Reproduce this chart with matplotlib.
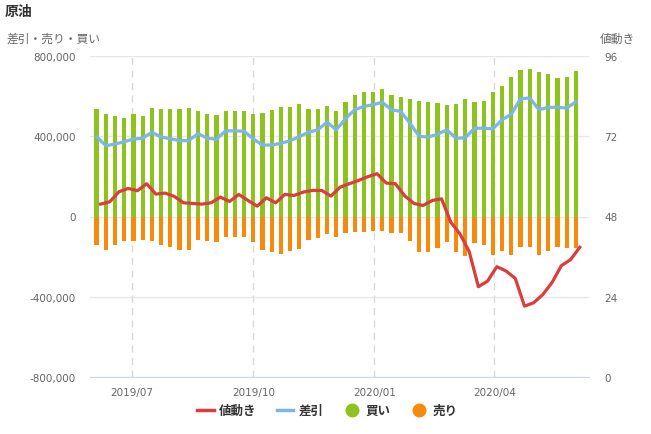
import numpy as np
import pandas as pd
import matplotlib
matplotlib.use('Agg')
import matplotlib.pyplot as plt
import matplotlib.dates as mdates
from matplotlib.lines import Line2D
from matplotlib.ticker import FuncFormatter

plt.rcParams['font.family'] = ['DejaVu Sans', 'Noto Sans CJK JP']

# weekly positions (Tuesdays), values in thousands of contracts
weeks = pd.date_range('2019-06-04', periods=53, freq='7D')

buy = [535, 512, 502, 490, 512, 502, 540, 535, 535, 535, 540, 524, 512, 507,
       524, 524, 524, 512, 517, 530, 546, 546, 561, 536, 536, 551, 525, 571,
       606, 621, 621, 636, 606, 596, 586, 574, 572, 567, 556, 562, 587, 572,
       577, 622, 652, 696, 731, 736, 721, 708, 688, 696, 726]

sell = [-140, -165, -140, -120, -120, -115, -120, -140, -154, -165, -165, -115,
        -120, -125, -100, -104, -104, -125, -165, -179, -185, -170, -160, -115,
        -109, -86, -104, -81, -75, -75, -71, -71, -82, -82, -124, -179, -179,
        -159, -125, -176, -199, -134, -140, -191, -171, -191, -151, -151, -191,
        -171, -151, -159, -159]

diff = [398, 353, 361, 373, 386, 390, 420, 396, 388, 378, 378, 413, 390, 385,
        427, 427, 425, 387, 356, 356, 365, 378, 398, 420, 432, 470, 432, 487,
        532, 549, 557, 569, 532, 524, 465, 400, 396, 410, 432, 390, 392, 440,
        440, 437, 482, 510, 587, 591, 532, 544, 544, 541, 571]

price = [51.7, 52.4, 55.4, 56.4, 55.7, 57.8, 54.7, 55.0, 54.0, 52.1, 51.9, 51.7,
         52.1, 53.8, 52.5, 54.6, 52.8, 51.1, 53.6, 52.1, 54.6, 54.3, 55.3, 55.8,
         55.8, 54.1, 56.8, 57.8, 58.8, 59.9, 60.8, 58.0, 57.8, 54.2, 51.9, 51.3,
         52.8, 53.3, 46.3, 42.8, 37.5, 27.0, 28.7, 33.0, 31.7, 29.5, 21.2, 22.2,
         24.7, 28.3, 33.3, 35.1, 38.8]

green = '#8dc21f'
orange = '#f7890c'
blue = '#7cb5ec'
red = '#dd3c3c'

x = mdates.date2num(weeks)
xp = mdates.date2num(weeks + pd.Timedelta(days=3))

fig = plt.figure(figsize=(6.51, 4.35), dpi=100)
ax = fig.add_axes([90 / 651, 57 / 435, 499 / 651, 321 / 435])

ax.bar(x, np.array(buy) * 1000, width=3.2, color=green, zorder=2)
ax.bar(x, np.array(sell) * 1000, width=3.2, color=orange, zorder=2)
ax.plot(x, np.array(diff) * 1000, color=blue, lw=2.3, zorder=3)

ax.set_xlim(mdates.date2num(pd.Timestamp('2019-05-30')),
            mdates.date2num(pd.Timestamp('2020-06-12')))
ax.set_ylim(-800000, 800000)
ax.set_yticks(np.arange(-800000, 800001, 400000))
ax.yaxis.set_major_formatter(FuncFormatter(lambda v, p: f'{v:,.0f}'))
ax.xaxis.set_major_locator(mdates.MonthLocator(bymonth=[1, 4, 7, 10]))
ax.xaxis.set_major_formatter(mdates.DateFormatter('%Y/%m'))

ax.grid(axis='y', color='#e6e6e6', lw=1, zorder=0)
ax.grid(axis='x', color='#d8d8d8', lw=1, ls=(0, (5, 4)), zorder=0)
ax.set_axisbelow(True)
for s in ['top', 'left', 'right']:
    ax.spines[s].set_visible(False)
ax.spines['bottom'].set_color('#ccd6eb')
ax.tick_params(axis='y', length=0, pad=10, labelsize=7.5, labelcolor='#666666')
ax.tick_params(axis='x', length=0, pad=7, labelsize=7.5, labelcolor='#666666')

ax2 = ax.twinx()
ax2.plot(xp, price, color=red, lw=2.3)
ax2.set_ylim(0, 96)
ax2.set_yticks([0, 24, 48, 72, 96])
for s in ax2.spines.values():
    s.set_visible(False)
ax2.tick_params(axis='y', length=0, pad=11, labelsize=7.5, labelcolor='#666666')

fig.text(5 / 651, 1 - 12 / 435, '原油', va='center', ha='left',
         fontsize=10, fontweight='bold', color='#333333')
fig.text(7 / 651, 1 - 39 / 435, '差引・売り・買い', va='center', ha='left',
         fontsize=8.5, color='#666666')
fig.text(600 / 651, 1 - 39 / 435, '値動き', va='center', ha='left',
         fontsize=8.5, color='#666666')

handles = [Line2D([], [], color=red, lw=2.5),
           Line2D([], [], color=blue, lw=2.5),
           Line2D([], [], color=green, marker='o', ls='none', markersize=9),
           Line2D([], [], color=orange, marker='o', ls='none', markersize=9)]
labels = ['値動き', '差引', '買い', '売り']
fig.legend(handles, labels, loc='center', bbox_to_anchor=(0.503, 1 - 411.7 / 435),
           ncol=4, frameon=False, handlelength=1.3, handletextpad=0.45,
           columnspacing=1.6, prop={'size': 9, 'weight': 'bold'},
           labelcolor='#333333')

fig.savefig('out.png', dpi=100)
